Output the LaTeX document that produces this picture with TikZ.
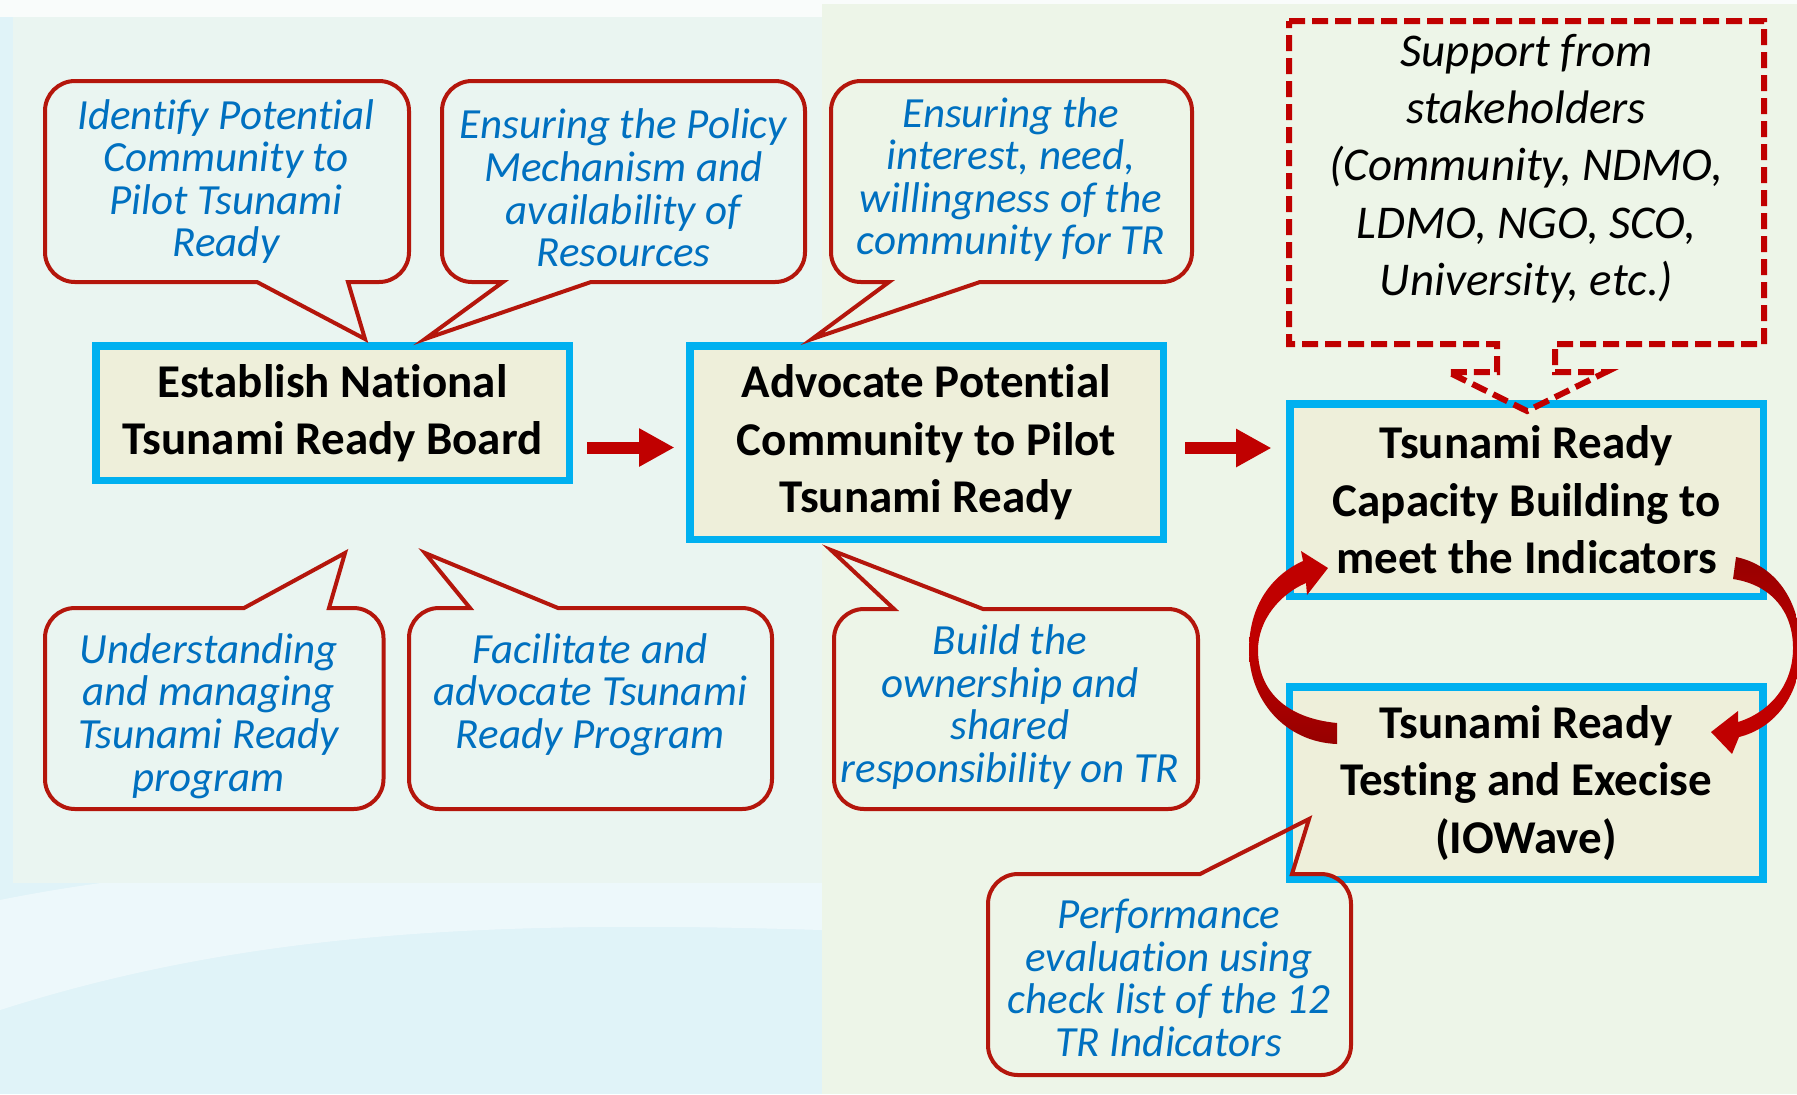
\documentclass[tikz,border=0pt]{standalone}
\usepackage{fontspec}
\setmainfont{Carlito}[Ligatures=NoCommon]
\usetikzlibrary{arrows.meta,calc}
\definecolor{tblue}{RGB}{0,112,192}
\definecolor{cred}{RGB}{180,22,12}
\definecolor{ared}{RGB}{192,0,0}
\definecolor{adark}{RGB}{150,0,0}
\definecolor{bcyan}{RGB}{0,176,240}
\definecolor{bfill}{RGB}{238,239,218}
\definecolor{bgblue}{RGB}{224,243,248}
\definecolor{bgleft}{RGB}{234,245,241}
\definecolor{bgright}{RGB}{237,245,232}
\tikzset{
  callout/.style={draw=cred, line width=2pt, line join=miter},
  ctext/.style={align=center, text=tblue, font=\fontsize{21.5}{21.3}\selectfont\itshape, inner sep=0pt},
  stext/.style={align=center, text=black, font=\fontsize{23.5}{28.6}\selectfont\itshape, inner sep=0pt},
  stepbox/.style={draw=bcyan, fill=bfill, line width=3.75pt, align=center,
    font=\fontsize{23.5}{28.8}\selectfont\bfseries, inner sep=0pt, minimum width=236.75pt},
  bigarrow/.style={draw=ared, line width=6pt, -{Triangle[length=17.75pt,width=18pt]}},
  dashcall/.style={draw=ared, line width=3pt, dash pattern=on 8pt off 3.5pt, line join=miter},
}
% callout with pointer on the bottom edge: L,T,R,B, base1, base2, tipx, tipy
\newcommand{\calloutB}[8]{\draw[callout] (#1+30,#2) -- (#3-30,#2)
  .. controls (#3-13.4,#2) and (#3,#2+13.4) .. (#3,#2+30) -- (#3,#4-30)
  .. controls (#3,#4-13.4) and (#3-13.4,#4) .. (#3-30,#4) -- (#6,#4) -- (#7,#8) -- (#5,#4)
  -- (#1+30,#4) .. controls (#1+13.4,#4) and (#1,#4-13.4) .. (#1,#4-30) -- (#1,#2+30)
  .. controls (#1,#2+13.4) and (#1+13.4,#2) .. (#1+30,#2) -- cycle;}
% callout with pointer on the top edge
\newcommand{\calloutT}[8]{\draw[callout] (#1+30,#2) -- (#5,#2) -- (#7,#8) -- (#6,#2) -- (#3-30,#2)
  .. controls (#3-13.4,#2) and (#3,#2+13.4) .. (#3,#2+30) -- (#3,#4-30)
  .. controls (#3,#4-13.4) and (#3-13.4,#4) .. (#3-30,#4)
  -- (#1+30,#4) .. controls (#1+13.4,#4) and (#1,#4-13.4) .. (#1,#4-30) -- (#1,#2+30)
  .. controls (#1,#2+13.4) and (#1+13.4,#2) .. (#1+30,#2) -- cycle;}
\begin{document}
\begin{tikzpicture}[x=0.5pt,y=-0.5pt]
\useasboundingbox (0,0) rectangle (1797,1094);
\clip (0,0) rectangle (1797,1094);
% background
\fill[bgblue] (0,0) rectangle (1797,1094);
\fill[white,opacity=0.45] (0,900) .. controls (250,850) and (500,860) .. (822,880) -- (822,930) .. controls (500,920) and (250,930) .. (0,1010) -- cycle;
\fill[bgright] (822,4) rectangle (1797,1094);
\fill[bgleft] (13,17) rectangle (822,883);
\fill[white!70!bgleft] (0,0) rectangle (1797,4);
\fill[white!70!bgleft] (0,0) rectangle (822,17);

% main boxes
\node[stepbox, minimum height=67.25pt] (est) at (332.5,413) {Establish National\\Tsunami Ready Board};
\node[stepbox, minimum height=96.75pt] (adv) at (926.5,442.5) {Advocate Potential\\Community to Pilot\\Tsunami Ready};
\node[stepbox, minimum height=96.25pt] (cap) at (1526.5,500) {Tsunami Ready\\Capacity Building to\\meet the Indicators};
\node[stepbox, minimum height=96.25pt] (tst) at (1526,783) {Tsunami Ready\\Testing and Execise\\(IOWave)};

% straight arrows
\draw[bigarrow] ($(est.east)+(14,34.5)$) -- ($(adv.west)+(-11.5,5)$);
\draw[bigarrow] ($(adv.east)+(18,5.5)$) -- ($(cap.west)+(-14.5,-52)$);

% curved arrows between capacity building and testing
\shade[top color=ared, bottom color=adark, middle color=ared]
  (1337,723) -- (1337,744) .. controls (1285,742) and (1249,700) .. (1249,650)
  .. controls (1249,605) and (1272,575) .. (1303,561) -- (1301,551) -- (1328,568) -- (1307,595) -- (1306,583)
  .. controls (1280,594) and (1258,620) .. (1258,650) .. controls (1258,690) and (1285,718) .. (1337,723) -- cycle;
\shade[top color=adark, bottom color=ared, middle color=ared]
  (1736,557) .. controls (1775,565) and (1800,600) .. (1801,648)
  .. controls (1801,695) and (1775,728) .. (1739,737) -- (1732,754) -- (1711,732) -- (1738,711) -- (1738,722)
  .. controls (1770,712) and (1793,685) .. (1793,648) .. controls (1793,612) and (1772,585) .. (1733,579) -- cycle;

% support (dashed down-arrow callout)
\draw[dashcall] (1289,21) -- (1764,21) -- (1764,344) -- (1555,344) -- (1555,372) -- (1606,372)
  -- (1527,411) -- (1448,372) -- (1497,372) -- (1497,344) -- (1289,344) -- cycle;
\node[stext] (sup) at (1526.5,168.5) {Support from\\stakeholders\\(Community, NDMO,\\LDMO, NGO, SCO,\\University, etc.)};

% callouts
\calloutB{45}{81}{409}{282}{257}{348}{365}{339}
\calloutB{442}{81}{805}{282}{503}{591}{425}{339}
\calloutB{831}{81}{1192}{282}{889}{980}{812}{339}
\calloutT{45}{608}{383.5}{809}{244}{329}{345}{553}
\calloutT{409}{608}{772}{809}{470}{558}{425}{553}
\calloutT{834}{609}{1198}{809}{894}{983}{831}{550}
\calloutT{988}{874}{1351}{1075}{1200}{1292}{1309}{819}

\node[ctext] (c1) at (226,181.5) {Identify Potential\\Community to\\Pilot Tsunami\\Ready};
\node[ctext] (c2) at (623.5,188) {Ensuring the Policy\\Mechanism and\\availability of\\Resources};
\node[ctext] (c3) at (1011,179.5) {Ensuring the\\interest, need,\\willingness of the\\community for TR};
\node[ctext] (c4) at (208.6,716) {Understanding\\and managing\\Tsunami Ready\\program};
\node[ctext] (c5) at (590,694.7) {Facilitate and\\advocate Tsunami\\Ready Program};
\node[ctext] (c6) at (1010,707) {Build the\\ownership and\\shared\\responsibility on TR};
\node[ctext] (c7) at (1169,978) {Performance\\evaluation using\\check list of the 12\\TR Indicators};
\end{tikzpicture}
\end{document}
